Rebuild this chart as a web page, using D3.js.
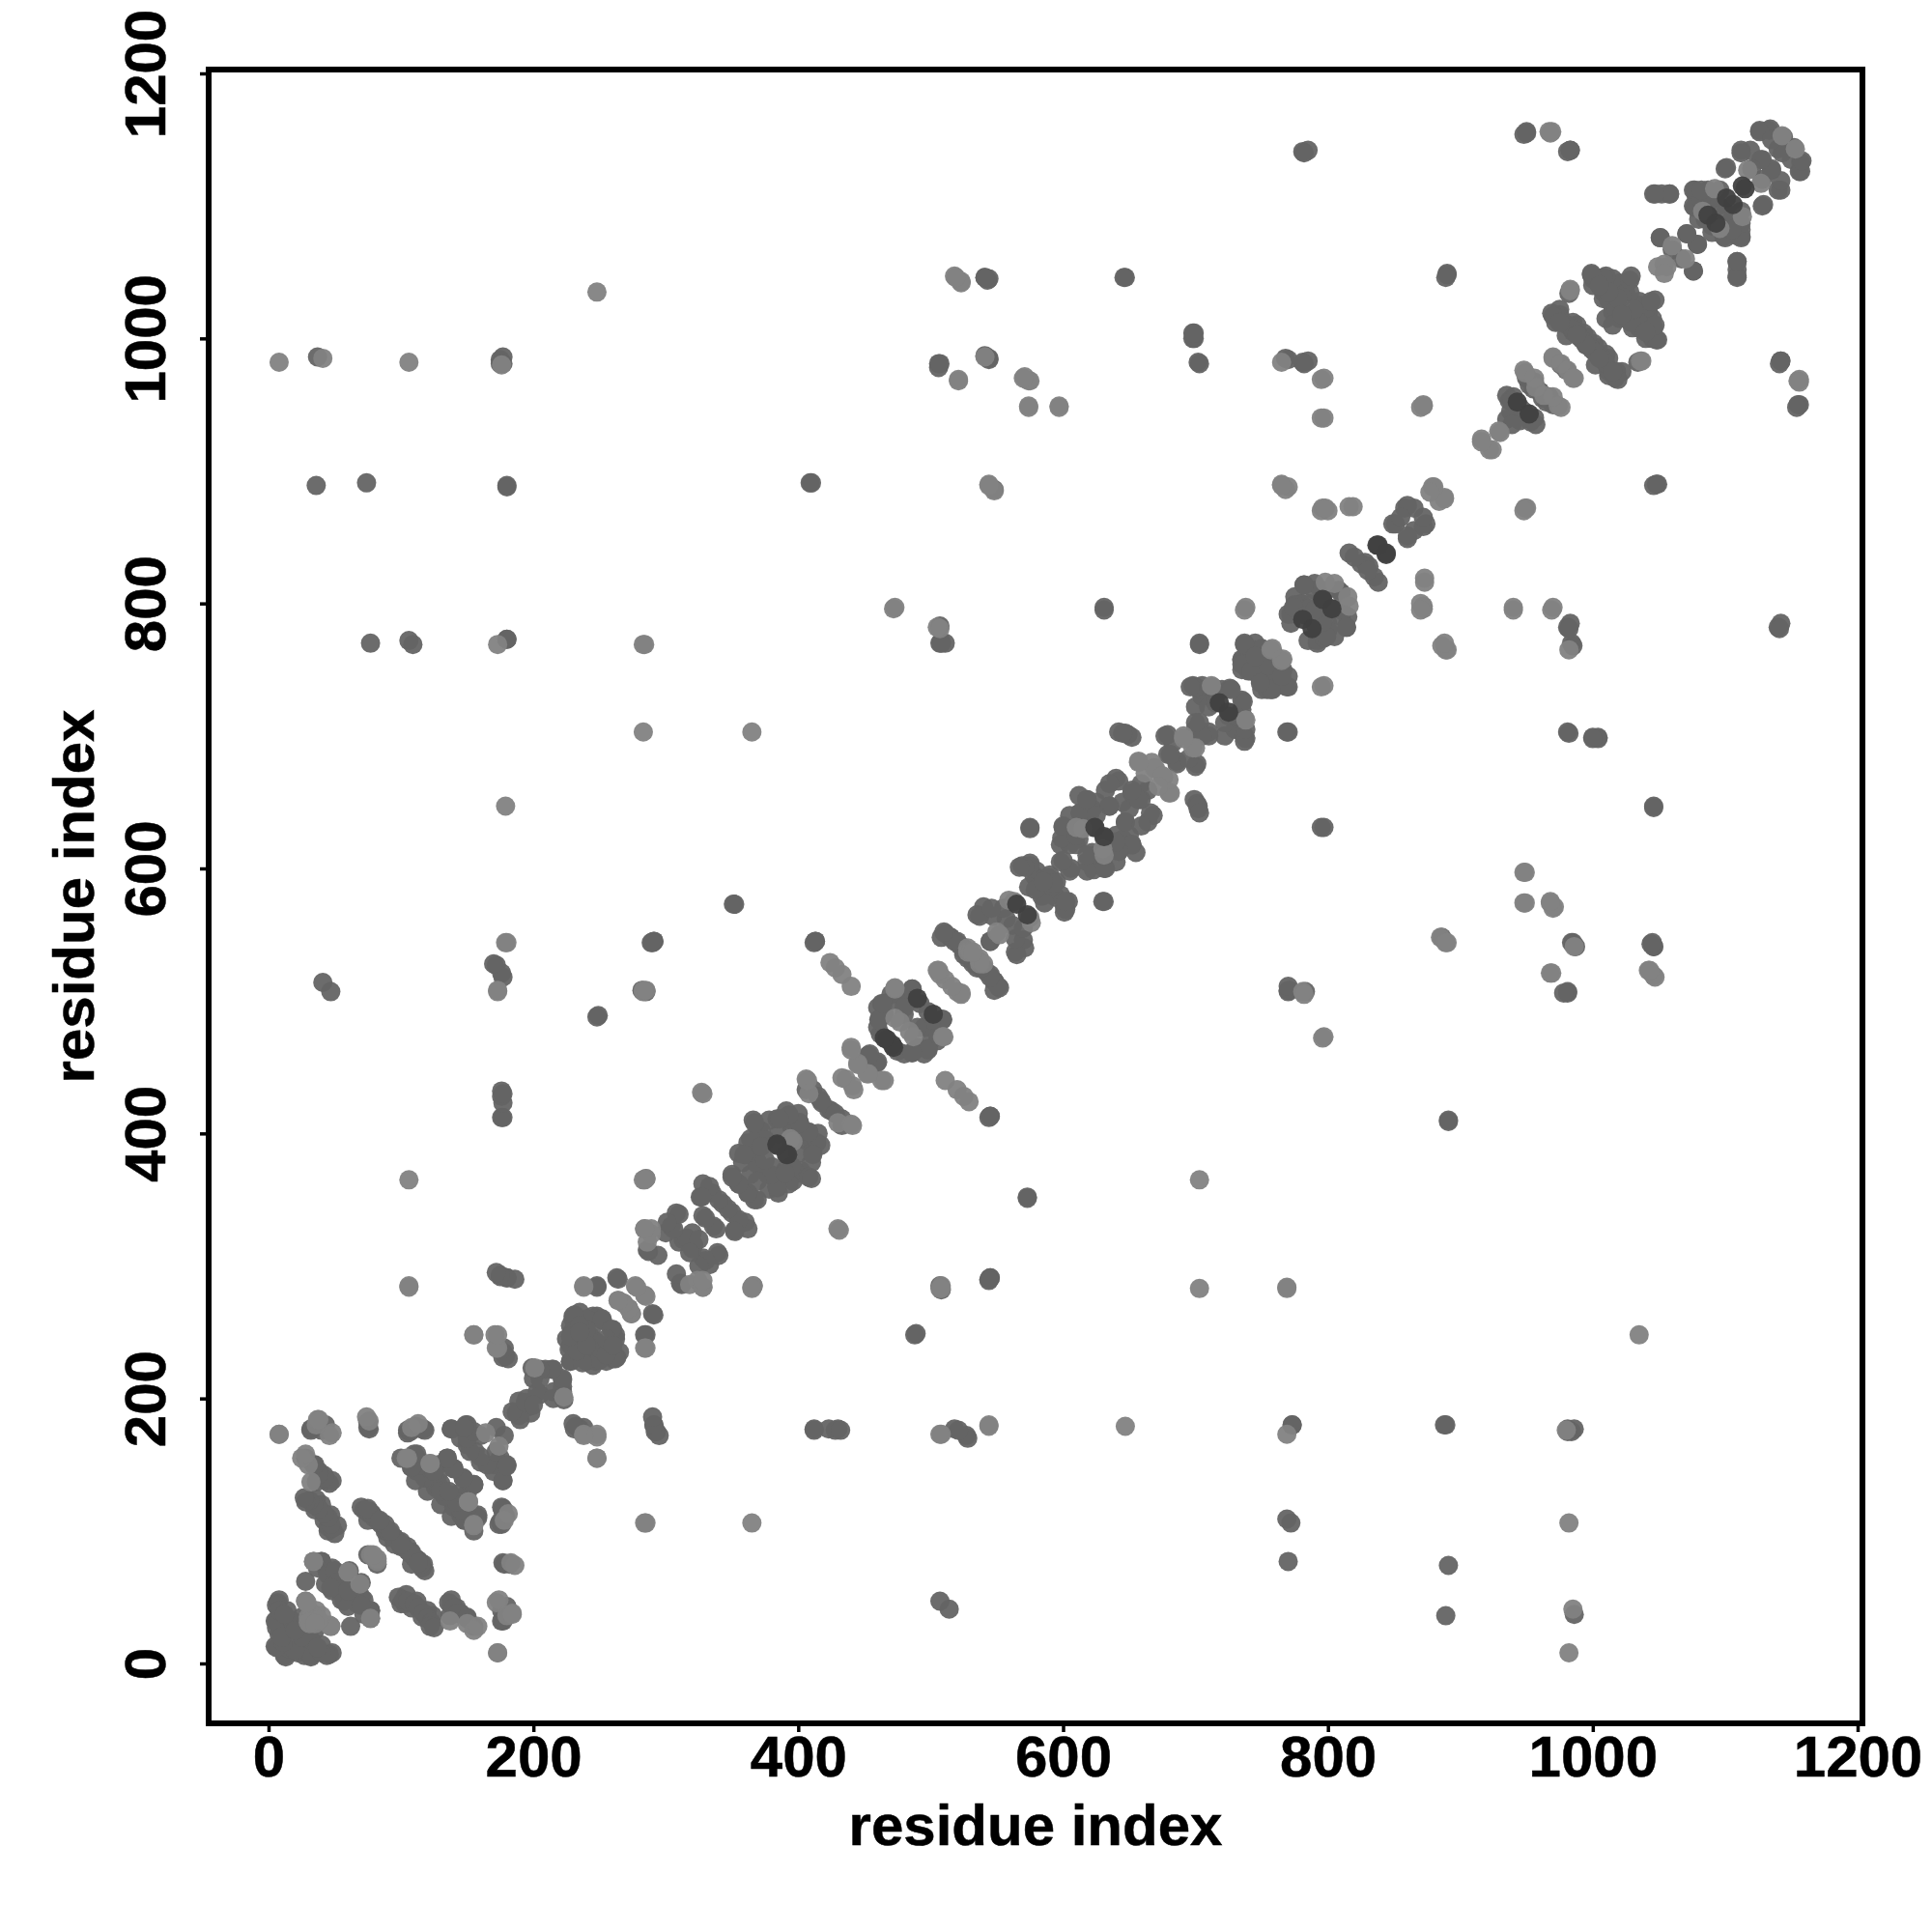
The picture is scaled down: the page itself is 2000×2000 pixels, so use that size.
<!DOCTYPE html>
<html><head><meta charset="utf-8"><script src="https://cdn.jsdelivr.net/npm/d3@7"></script>
<style>html,body{margin:0;background:#fff}</style></head><body><div id="c"></div>
<script>
const xTicks=[0,200,400,600,800,1000,1200];
const yTicks=[0,200,400,600,800,1000,1200];
const axisTitle="residue index";
// contact pairs (residue i, residue j); the contact map is symmetric
const denseClusterPairs=[[975,1022],[985,1012],[993,1004],[1001,996],[1010,988],[1018,975],[972,1012],[980,1002],[940,956],[938,945],[945,948],[950,972],[955,962],[960,960],[965,952],[970,950],[1078,1108],[1082,1110],[1090,1108],[1095,1100],[1085,1098],[1100,1085],[1105,1090],[1110,1085],[1080,1090],[1000,1045],[1015,1040],[1025,1035],[1035,1028],[1042,1020],[1020,1015],[1030,1008],[1040,1000],[1045,1015],[1008,1035],[515,548],[522,542],[530,535],[540,525],[548,515],[508,548],[532,528],[18,25],[25,12],[35,25],[12,30],[14,40],[8,32],[22,8],[27,6],[100,155],[112,155],[128,143],[142,125],[150,128],[158,112],[130,120],[145,112],[100,45],[108,42],[112,47],[116,35],[120,40],[104,52],[124,36],[103,45],[28,155],[34,150],[38,145],[42,142],[44,138],[46,136],[36,137],[70,118],[78,113],[88,102],[98,92],[107,84],[115,76],[75,108],[90,95],[100,88],[110,80],[232,255],[240,235],[258,240],[262,245],[248,262],[225,245],[228,228],[240,228],[255,228],[235,265],[355,385],[395,375],[402,372],[385,400],[395,410],[405,395],[358,378],[370,402],[378,410],[400,415],[465,490],[470,500],[500,480],[505,470],[495,460],[460,480],[475,462],[592,580],[595,590],[578,595],[604,575],[580,598],[605,630],[612,655],[622,645],[640,605],[650,625],[635,615],[602,622],[622,612],[645,650],[745,755],[750,735],[760,760],[764,740],[742,760],[770,745],[758,735],[780,800],[790,810],[800,785],[805,775],[772,792],[810,795],[815,790],[785,772],[792,770],[722,700],[730,705],[705,730],[720,735],[735,705]];
const midPairs=[[46,7],[32,5],[13,5],[12,6],[28,16],[16,11],[32,6],[32,18],[48,8],[44,6],[20,10],[25,20],[40,8],[37,12],[62,28],[77,40],[72,37],[67,45],[70,50],[61,52],[34,77],[40,77],[48,72],[53,65],[70,61],[48,55],[57,47],[43,60],[44,70],[55,60],[98,50],[102,48],[105,47],[110,45],[113,42],[117,38],[120,34],[123,31],[122,28],[125,27],[138,48],[140,42],[143,38],[176,40],[176,32],[150,35],[178,75],[182,75],[176,105],[175,107],[177,115],[176,118],[111,150],[118,140],[126,133],[135,128],[140,118],[138,111],[135,155],[140,147],[147,140],[155,135],[130,130],[145,125],[108,148],[116,145],[122,142],[130,136],[150,115],[148,108],[158,110],[150,180],[145,170],[150,165],[156,160],[160,152],[170,150],[177,138],[175,155],[178,148],[172,178],[160,172],[72,116],[80,110],[85,105],[95,95],[105,88],[113,78],[117,75],[75,115],[83,107],[90,100],[100,92],[108,84],[82,75],[76,113],[32,177],[43,180],[76,177],[105,174],[111,179],[117,177],[138,177],[149,180],[199,223],[209,222],[215,222],[222,214],[189,198],[187,189],[190,184],[197,194],[205,203],[200,215],[215,205],[222,205],[195,200],[230,262],[229,250],[227,237],[236,233],[247,228],[260,230],[263,231],[260,252],[252,259],[243,247],[252,240],[238,250],[233,255],[245,255],[240,240],[255,235],[250,235],[240,260],[175,292],[180,291],[186,290],[248,285],[263,291],[290,264],[284,248],[177,231],[177,235],[181,230],[232,179],[238,178],[291,180],[293,175],[295,172],[308,340],[304,330],[313,320],[321,316],[328,306],[339,310],[333,301],[287,311],[294,308],[312,286],[300,325],[320,325],[310,318],[350,369],[355,362],[362,355],[367,350],[328,362],[335,355],[343,347],[350,340],[360,333],[352,327],[328,338],[336,330],[326,352],[366,410],[362,393],[360,384],[369,379],[377,369],[386,364],[396,364],[408,367],[391,417],[401,408],[408,401],[414,393],[384,411],[411,386],[384,359],[364,369],[375,395],[370,390],[380,375],[390,372],[411,433],[417,425],[423,418],[406,433],[415,428],[453,459],[460,454],[463,498],[461,486],[486,509],[492,498],[509,486],[486,461],[498,464],[474,506],[486,501],[480,490],[495,480],[511,551],[518,545],[545,520],[552,510],[525,538],[535,525],[291,545],[413,545],[249,489],[545,291],[545,413],[540,571],[535,565],[547,564],[564,537],[570,546],[557,562],[555,570],[545,545],[569,602],[575,602],[574,586],[589,593],[584,579],[601,571],[601,567],[600,631],[598,618],[610,618],[618,605],[623,599],[632,600],[598,605],[606,600],[590,585],[575,631],[630,575],[507,783],[508,771],[618,652],[613,642],[635,647],[640,668],[631,623],[642,613],[652,618],[647,635],[666,642],[664,635],[632,659],[620,640],[625,610],[640,625],[659,664],[652,657],[659,652],[677,700],[679,686],[701,679],[686,681],[683,695],[647,702],[642,703],[701,649],[699,652],[702,645],[698,738],[705,738],[726,736],[735,727],[710,722],[703,710],[700,705],[710,700],[737,713],[737,700],[737,696],[725,715],[715,730],[737,770],[735,757],[766,750],[769,737],[754,735],[749,742],[740,749],[753,755],[745,765],[760,745],[782,814],[775,799],[786,796],[797,774],[814,782],[808,810],[791,783],[803,796],[795,790],[631,797],[703,770],[770,508],[950,1156],[983,1142],[890,1049],[1048,890],[1155,950],[1142,983],[1142,785],[983,785],[935,939],[937,953],[953,939],[935,957],[956,967],[969,1019],[981,1010],[990,1001],[999,992],[1007,985],[1017,970],[976,980],[975,1015],[985,1005],[995,995],[1003,988],[1012,975],[999,1049],[1010,1047],[1012,1029],[1030,1019],[1046,1008],[1048,999],[1010,1015],[1028,1044],[1047,1029],[1022,1031],[1005,1040],[1018,1022],[1035,1012],[1040,1005],[1051,1076],[1060,1067],[1071,1079],[1079,1071],[1076,1051],[1052,1109],[1046,1109],[1058,1109],[1109,1058],[1109,1047],[1076,1112],[1076,1100],[1087,1112],[1096,1112],[1082,1105],[1112,1077],[1099,1077],[1107,1093],[1090,1085],[1105,1082],[1112,1082],[1101,1129],[1112,1142],[1119,1142],[1128,1135],[1135,1127],[1128,1120],[1140,1112],[1128,1100],[1126,1157],[1134,1158],[1144,1152],[1157,1133],[1156,1126],[1140,1143],[1150,1135],[828,831],[838,816],[858,872],[865,872],[874,860],[851,860],[860,849],[825,830],[835,820],[865,855],[37,986],[175,984],[175,981],[36,889],[74,891],[180,888],[77,770],[106,772],[109,769],[180,773],[41,514],[47,507],[172,527],[176,521],[289,544],[351,573],[409,891],[507,770],[511,770],[412,544],[176,428],[176,432],[176,412],[541,1046],[544,1045],[646,1046],[698,1004],[698,1000],[702,982],[506,981],[506,978],[541,987],[544,985],[548,886],[768,985],[781,982],[781,1141],[981,1141],[948,1154],[1046,889],[1034,982],[981,782],[1140,782],[984,770],[769,703],[981,703],[1000,699],[1004,699],[795,631],[1046,647],[984,544],[1044,543],[1046,541],[981,507],[891,410],[573,352],[488,248],[889,180],[773,180],[981,177],[986,177],[412,177],[423,177],[430,177],[518,177],[528,170],[544,290],[508,282],[507,285]];
const lightPairs=[[47,28],[31,30],[46,29],[28,47],[36,40],[33,38],[30,35],[77,34],[60,69],[77,82],[82,79],[104,155],[122,151],[151,122],[155,105],[137,32],[150,30],[155,25],[158,28],[172,46],[180,36],[184,38],[173,8],[186,74],[178,108],[181,113],[285,106],[37,184],[48,174],[76,183],[164,174],[8,173],[238,285],[277,285],[284,278],[264,274],[268,272],[272,268],[274,264],[284,238],[238,173],[248,173],[248,155],[155,248],[171,248],[172,238],[223,201],[284,328],[289,328],[324,289],[318,286],[328,284],[394,396],[406,441],[430,408],[440,407],[436,441],[442,433],[440,465],[445,453],[452,445],[463,440],[473,510],[509,473],[487,473],[477,484],[505,523],[511,516],[520,507],[523,506],[528,537],[537,530],[424,529],[433,520],[440,511],[428,525],[327,431],[285,366],[366,285],[283,508],[508,285],[559,576],[575,563],[550,552],[528,540],[537,532],[610,631],[630,615],[657,681],[667,680],[676,669],[680,657],[670,675],[662,672],[691,700],[698,691],[712,738],[757,765],[766,758],[816,798],[815,805],[738,797],[781,507],[797,473],[916,924],[922,916],[930,929],[948,976],[963,957],[974,949],[956,970],[970,985],[986,970],[981,976],[1056,1054],[1070,1060],[1049,1054],[1113,1092],[1096,1083],[1117,1127],[1153,1143],[969,1156],[967,1156],[872,950],[949,872],[873,819],[872,798],[940,797],[970,797],[1155,968],[1036,983],[983,1037],[879,888],[888,880],[884,877],[8,982],[41,985],[106,982],[173,769],[283,769],[283,703],[365,703],[179,647],[179,544],[173,507],[248,1035],[283,507],[472,796],[505,782],[176,980],[106,365],[283,365],[365,284],[106,284],[518,1047],[523,1043],[521,969],[571,971],[575,968],[574,949],[597,949],[544,890],[765,982],[795,969],[795,940],[765,890],[770,888],[796,872],[800,870],[816,873],[870,948],[885,548],[889,544],[948,597],[948,574],[968,574],[970,570],[968,521],[986,541],[1042,523],[1046,519],[795,737],[430,328],[769,284],[544,180],[508,173],[886,768],[889,765],[795,870]];
const darkPairs=[[384,392],[391,384],[502,490],[467,471],[472,465],[565,573],[624,631],[718,725],[781,788],[796,803],[837,844],[844,838],[943,952],[1101,1106],[1087,1093],[1113,1115]];

const W=2000,H=2000;
const frame={l:216,r:1928,t:72,b:1784};
const x=d3.scaleLinear().domain([0,1200]).range([278,1923]);
const y=d3.scaleLinear().domain([0,1200]).range([1722,76]);
const svg=d3.select("#c").append("svg").attr("width",W).attr("height",H).style("display","block");
function addPoints(pairs,fill,op){
  const both=pairs.concat(pairs.map(d=>[d[1],d[0]]));
  svg.append("g").selectAll("circle").data(both).join("circle")
    .attr("cx",d=>x(d[0])).attr("cy",d=>y(d[1])).attr("r",10)
    .attr("fill",fill).attr("fill-opacity",op);
}
addPoints(denseClusterPairs,"#646464",.95);
addPoints(midPairs,"#646464",.95);
addPoints(lightPairs,"#828282",.95);
addPoints(darkPairs,"#404040",.95);
const font="'Liberation Sans',Arial,sans-serif";
const gx=svg.append("g").attr("transform",`translate(0,${frame.b+3})`).call(d3.axisBottom(x).tickValues(xTicks).tickSize(6).tickFormat(d3.format("d")));
const gy=svg.append("g").attr("transform",`translate(${frame.l-3},0)`).call(d3.axisLeft(y).tickValues(yTicks).tickSize(6).tickFormat(d3.format("d")));
[gx,gy].forEach(g=>{g.select(".domain").remove();g.selectAll("line").attr("stroke","#000").attr("stroke-width",3.5);
  g.selectAll("text").attr("fill","#000").attr("stroke","#000").attr("stroke-width",.5).style("font-family",font).style("font-weight","bold").style("font-size","60px");});
gx.selectAll("text").attr("y",52).attr("dy",0);
gy.selectAll("text").attr("x",0).attr("y",0).attr("dy",0).attr("text-anchor","middle").attr("transform","translate(-42,0) rotate(-90)");
svg.append("rect").attr("x",frame.l).attr("y",frame.t).attr("width",frame.r-frame.l).attr("height",frame.b-frame.t).attr("fill","none").attr("stroke","#000").attr("stroke-width",6);
svg.append("text").attr("x",1072).attr("y",1910).attr("text-anchor","middle").attr("stroke","#000").attr("stroke-width",.5).style("font-family",font).style("font-weight","bold").style("font-size","60px").text(axisTitle);
svg.append("text").attr("transform","translate(97,928) rotate(-90)").attr("text-anchor","middle").attr("stroke","#000").attr("stroke-width",.5).style("font-family",font).style("font-weight","bold").style("font-size","60px").text(axisTitle);
</script></body></html>
